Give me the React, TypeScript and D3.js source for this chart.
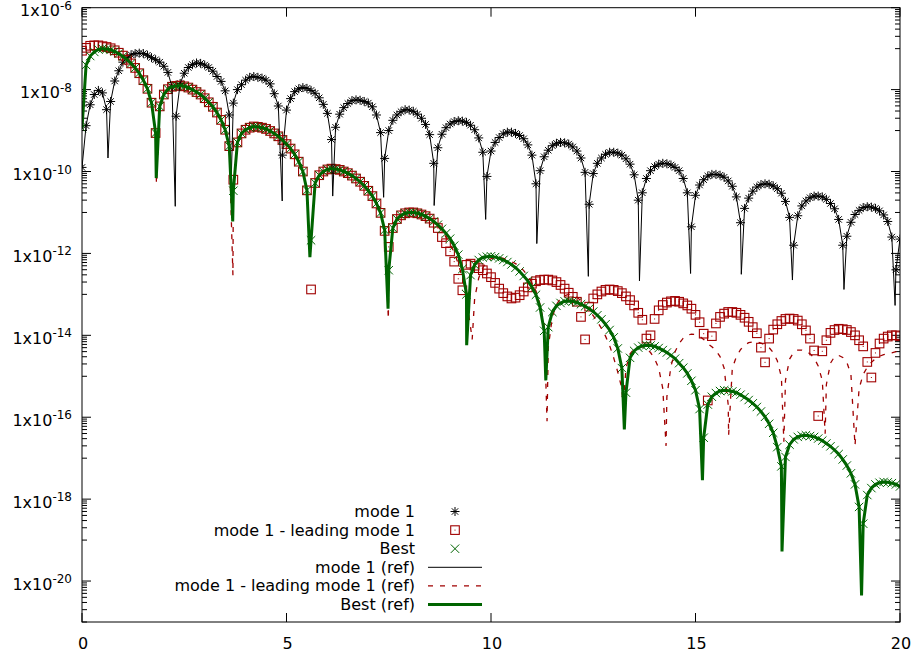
import * as d3 from 'd3';

// x sampled every 0.1 from 0 to 20, values are log10(y)
const xs = d3.range(201).map((i) => i / 10);

const xTicks = [0, 5, 10, 15, 20];
const yLabelExps = [-6, -8, -10, -12, -14, -16, -18, -20];
const minorSteps = [1, 2, 3, 4, 5, 6, 7, 8, 9];

const legendLabels = [
  'mode 1',
  'mode 1 - leading mode 1',
  'Best',
  'mode 1 (ref)',
  'mode 1 - leading mode 1 (ref)',
  'Best (ref)'
];

// mode 1 (stars)
const mode1 = [
  -9.9, -8.88, -8.37, -8.12, -8.02, -8.08, -8.49, -8.29, -7.79, -7.54,
  -7.33, -7.22, -7.15, -7.12, -7.11, -7.12, -7.16, -7.22, -7.27, -7.33,
  -7.43, -7.58, -7.93, -8.65, -7.85, -7.6, -7.46, -7.39, -7.35, -7.36,
  -7.4, -7.46, -7.55, -7.68, -7.8, -8.03, -8.62, -8.33, -8.0, -7.88,
  -7.77, -7.7, -7.68, -7.7, -7.72, -7.77, -7.86, -8.1, -8.4, -9.6,
  -8.5, -8.22, -8.05, -7.98, -7.95, -7.97, -8.02, -8.09, -8.2, -8.36,
  -8.58, -9.22, -8.92, -8.6, -8.44, -8.34, -8.27, -8.25, -8.26, -8.29,
  -8.33, -8.42, -8.62, -9.05, -9.68, -9.0, -8.75, -8.62, -8.54, -8.49,
  -8.5, -8.53, -8.6, -8.7, -8.85, -9.1, -9.8, -9.42, -9.09, -8.93,
  -8.84, -8.78, -8.76, -8.77, -8.8, -8.87, -8.98, -9.18, -9.53, -10.12,
  -9.5, -9.29, -9.17, -9.08, -9.04, -9.04, -9.07, -9.12, -9.2, -9.35,
  -9.6, -10.3, -9.98, -9.64, -9.48, -9.37, -9.31, -9.29, -9.3, -9.33,
  -9.4, -9.5, -9.67, -10.02, -10.8, -10.05, -9.8, -9.67, -9.58, -9.53,
  -9.53, -9.55, -9.6, -9.69, -9.82, -10.08, -10.7, -10.52, -10.17, -9.98,
  -9.88, -9.82, -9.8, -9.81, -9.84, -9.9, -9.98, -10.17, -10.52, -11.35,
  -10.58, -10.33, -10.2, -10.11, -10.07, -10.07, -10.09, -10.14, -10.23, -10.36,
  -10.62, -11.25, -10.9, -10.65, -10.48, -10.38, -10.32, -10.3, -10.31, -10.35,
  -10.42, -10.53, -10.73, -11.12, -11.8, -11.08, -10.84, -10.72, -10.64, -10.6,
  -10.6, -10.62, -10.68, -10.78, -10.91, -11.17, -11.8, -11.58, -11.24, -11.05,
  -10.95, -10.88, -10.86, -10.87, -10.9, -10.96, -11.06, -11.22, -11.6, -12.4,
  -11.65
];

// mode 1 - leading mode 1 (squares)
const mode1Lead = [
  -7.05, -6.98, -6.93, -6.92, -6.92, -6.94, -6.96, -6.99, -7.04, -7.1,
  -7.17, -7.27, -7.36, -7.47, -7.6, -7.77, -7.98, -8.32, -9.06, -8.41,
  -8.12, -7.99, -7.93, -7.91, -7.9, -7.92, -7.95, -8.0, -8.06, -8.12,
  -8.21, -8.31, -8.42, -8.56, -8.74, -8.98, -9.38, -10.2, -9.29, -9.07,
  -8.98, -8.93, -8.9, -8.91, -8.93, -8.96, -9.01, -9.07, -9.14, -9.23,
  -9.33, -9.44, -9.58, -9.76, -10.0, -10.46, -12.88, -10.28, -10.09, -10.0,
  -9.95, -9.93, -9.94, -9.96, -10.0, -10.04, -10.1, -10.17, -10.25, -10.35,
  -10.47, -10.6, -10.78, -11.01, -11.45, -11.84, -11.38, -11.16, -11.07, -11.02,
  -11.0, -11.0, -11.02, -11.05, -11.09, -11.15, -11.25, -11.38, -11.6, -11.75,
  -11.95, -12.2, -12.62, -12.9, -12.28, -12.25, -12.3, -12.36, -12.41, -12.49,
  -12.58, -12.72, -12.86, -12.97, -13.05, -13.1, -13.08, -13.02, -12.93, -12.83,
  -12.74, -12.68, -12.65, -12.64, -12.64, -12.66, -12.7, -12.77, -12.86, -12.96,
  -13.06, -13.18, -13.55, -14.1, -13.3, -13.1, -13.0, -12.93, -12.89, -12.88,
  -12.89, -12.92, -12.97, -13.05, -13.14, -13.27, -13.45, -13.62, -14.08, -14.0,
  -13.6, -13.39, -13.26, -13.2, -13.17, -13.16, -13.18, -13.22, -13.27, -13.35,
  -13.5, -13.68, -13.96, -15.59, -14.02, -13.71, -13.55, -13.47, -13.43, -13.43,
  -13.45, -13.5, -13.57, -13.67, -13.8, -13.95, -14.3, -14.66, -14.08, -13.86,
  -13.73, -13.65, -13.6, -13.59, -13.6, -13.64, -13.73, -13.88, -14.08, -14.37,
  -15.97, -14.39, -14.12, -13.94, -13.87, -13.84, -13.85, -13.87, -13.92, -14.0,
  -14.12, -14.27, -14.65, -15.03, -14.43, -14.2, -14.08, -14.03, -14.0, -14.0,
  -14.02
];

// Best (crosses)
const best = [
  -8.94, -7.4, -7.18, -7.08, -7.02, -7.0, -7.01, -7.03, -7.07, -7.12,
  -7.19, -7.27, -7.36, -7.47, -7.6, -7.77, -7.98, -8.32, -9.06, -8.41,
  -8.12, -7.99, -7.93, -7.91, -7.9, -7.92, -7.95, -8.0, -8.06, -8.12,
  -8.21, -8.31, -8.42, -8.56, -8.74, -8.98, -9.38, -10.47, -9.29, -9.07,
  -8.98, -8.93, -8.9, -8.91, -8.93, -8.96, -9.01, -9.07, -9.14, -9.23,
  -9.33, -9.44, -9.58, -9.76, -10.0, -10.46, -11.68, -10.28, -10.09, -10.0,
  -9.95, -9.93, -9.94, -9.96, -10.0, -10.04, -10.1, -10.17, -10.25, -10.35,
  -10.47, -10.6, -10.78, -11.01, -11.43, -12.41, -11.38, -11.16, -11.07, -11.02,
  -11.0, -11.0, -11.02, -11.05, -11.09, -11.15, -11.22, -11.3, -11.4, -11.51,
  -11.64, -11.81, -12.03, -12.38, -13.0, -12.53, -12.28, -12.16, -12.1, -12.08,
  -12.07, -12.09, -12.12, -12.16, -12.21, -12.27, -12.35, -12.44, -12.55, -12.67,
  -12.82, -13.01, -13.32, -13.89, -13.8, -13.43, -13.28, -13.21, -13.17, -13.16,
  -13.17, -13.2, -13.24, -13.29, -13.35, -13.42, -13.51, -13.61, -13.73, -13.87,
  -14.05, -14.32, -14.8, -15.4, -14.55, -14.38, -14.3, -14.26, -14.24, -14.25,
  -14.27, -14.31, -14.36, -14.42, -14.49, -14.57, -14.68, -14.79, -14.93, -15.11,
  -15.34, -15.8, -16.5, -15.69, -15.5, -15.41, -15.36, -15.34, -15.35, -15.37,
  -15.4, -15.45, -15.51, -15.58, -15.66, -15.75, -15.86, -15.99, -16.16, -16.38,
  -16.73, -17.2, -16.97, -16.67, -16.54, -16.48, -16.45, -16.44, -16.46, -16.48,
  -16.52, -16.57, -16.64, -16.71, -16.8, -16.9, -17.03, -17.18, -17.37, -17.64,
  -18.19, -18.6, -17.9, -17.73, -17.64, -17.6, -17.58, -17.59, -17.61, -17.64,
  -17.69
];

// mode 1 - leading mode 1 (ref), same grid
const mode1LeadRef = [
  -8.94, -7.4, -7.18, -7.08, -7.02, -7.0, -7.01, -7.03, -7.07, -7.12,
  -7.19, -7.27, -7.36, -7.47, -7.6, -7.77, -7.98, -8.32, -9.06, -8.41,
  -8.12, -7.99, -7.93, -7.91, -7.9, -7.92, -7.95, -8.0, -8.06, -8.12,
  -8.21, -8.31, -8.42, -8.56, -8.74, -8.98, -9.38, -10.47, -9.29, -9.07,
  -8.98, -8.93, -8.9, -8.91, -8.93, -8.96, -9.01, -9.07, -9.14, -9.23,
  -9.33, -9.44, -9.58, -9.76, -10.0, -10.46, -11.68, -10.28, -10.09, -10.0,
  -9.95, -9.93, -9.94, -9.96, -10.0, -10.04, -10.1, -10.17, -10.25, -10.35,
  -10.47, -10.6, -10.78, -11.01, -11.43, -12.41, -11.38, -11.16, -11.07, -11.02,
  -11.0, -11.0, -11.02, -11.05, -11.09, -11.15, -11.24, -11.34, -11.46, -11.6,
  -11.77, -11.98, -12.25, -12.6, -13.1, -13.8, -13.1, -12.6, -12.35, -12.2,
  -12.13, -12.1, -12.1, -12.12, -12.16, -12.2, -12.25, -12.32, -12.42, -12.55,
  -12.72, -12.92, -13.25, -13.75, -14.3, -13.55, -13.25, -13.1, -13.03, -13.0,
  -13.02, -13.07, -13.15, -13.28, -13.4, -13.52, -13.67, -13.83, -14.02, -14.25,
  -14.55, -14.9, -15.3, -14.8, -14.45, -14.33, -14.28, -14.28, -14.32, -14.42,
  -14.57, -14.8, -15.3, -15.5, -14.75, -14.4, -14.2, -14.07, -14.0, -13.97,
  -13.98, -14.02, -14.1, -14.2, -14.28, -14.37, -14.52, -14.8, -15.7, -14.8,
  -14.52, -14.35, -14.24, -14.18, -14.16, -14.16, -14.19, -14.23, -14.3, -14.42,
  -14.62, -15.02, -15.1, -14.58, -14.42, -14.36, -14.36, -14.39, -14.45, -14.55,
  -14.75, -15.1, -15.2, -14.68, -14.52, -14.49, -14.54, -14.66, -14.95, -16.69,
  -15.3, -14.95, -14.78, -14.66, -14.57, -14.51, -14.47, -14.45, -14.43, -14.4,
  -14.4
];

// cusp minima of the reference curves: [x, log10 y]
const mode1RefDips = [
  [0.635, -9.67], [2.28, -10.85], [3.64, -10.5], [4.895, -10.72],
  [6.13, -10.6], [7.375, -10.63], [8.61, -10.83], [9.87, -11.17],
  [11.12, -11.76], [12.38, -12.56], [13.63, -12.67], [14.88, -12.49],
  [16.12, -12.51], [17.37, -12.65], [18.63, -12.88], [19.88, -13.27]
];
const mode1LeadRefDips = [
  [1.82, -10.3], [3.69, -12.53], [5.575, -12.14], [7.49, -13.6],
  [9.54, -14.1], [11.37, -16.1], [13.23, -15.8], [14.28, -16.7],
  [15.81, -16.44], [17.16, -16.6], [18.17, -16.4]
];
const bestRefDips = [
  [1.815, -10.16], [3.685, -11.22], [5.572, -12.09], [7.483, -13.35],
  [9.405, -14.24], [11.34, -15.1], [13.26, -16.3], [15.17, -17.54],
  [17.115, -19.28], [19.06, -20.35]
];

const BLACK = '#000000';
const RED = '#a00000';
const GREEN = '#006400';
const FONT = 'DejaVu Sans, Liberation Sans, sans-serif';

type Pt = [number, number];

function Star({ cx, cy }: { cx: number; cy: number }) {
  return (
    <path
      transform={`translate(${cx},${cy})`}
      d="M-4.5,0H4.5M0,-4.5V4.5M-3.2,-3.2L3.2,3.2M-3.2,3.2L3.2,-3.2"
      stroke={BLACK}
      strokeWidth={1}
      fill="none"
    />
  );
}

function Square({ cx, cy }: { cx: number; cy: number }) {
  return (
    <g transform={`translate(${cx},${cy})`}>
      <rect x={-4.3} y={-4.3} width={8.6} height={8.6} fill="none" stroke={RED} strokeWidth={1.1} />
      <rect x={-0.5} y={-0.5} width={1} height={1} fill={RED} />
    </g>
  );
}

function Cross({ cx, cy }: { cx: number; cy: number }) {
  return (
    <path
      transform={`translate(${cx},${cy})`}
      d="M-4.2,-4.2L4.2,4.2M-4.2,4.2L4.2,-4.2"
      stroke={GREEN}
      strokeWidth={1}
      fill="none"
    />
  );
}

export default function App() {
  const left = 82;
  const right = 900;
  const top = 7.7;
  const bottom = 622;

  const x = d3.scaleLinear().domain([0, 20]).range([left, right]);
  const y = d3.scaleLog().domain([1e-21, 1e-6]).range([bottom, top]);
  const yl = (v: number) => y(Math.pow(10, v));

  const toPts = (vals: number[]): Pt[] => vals.map((v, i) => [xs[i], v]);
  const withDips = (vals: number[], dips: number[][]): Pt[] =>
    [...toPts(vals), ...(dips as Pt[])].sort((a, b) => a[0] - b[0]);

  const line = d3
    .line<Pt>()
    .x((d) => x(d[0]))
    .y((d) => yl(d[1]));

  const majorTicks = yLabelExps.map((e) => Math.pow(10, e));
  const minorTicks = yLabelExps.flatMap((e) =>
    minorSteps.map((m) => m * Math.pow(10, e - 1))
  );

  const legendX = 415;
  const legendY0 = 511.5;
  const legendStep = 18.6;
  const sampleX = 455;

  return (
    <svg
      width={915}
      height={657}
      style={{ position: 'absolute', left: 0, top: 0, background: '#fff' }}
      fontFamily={FONT}
    >
      <defs>
        <clipPath id="plot-area">
          <rect x={left} y={top} width={right - left} height={bottom - top} />
        </clipPath>
      </defs>
      <rect x={0} y={0} width={915} height={657} fill="#fff" />

      {/* ticks */}
      {majorTicks.map((t, i) => (
        <g key={`ymaj${i}`} stroke={BLACK} strokeWidth={1}>
          <line x1={left} x2={left + 9} y1={y(t)} y2={y(t)} />
          <line x1={right} x2={right - 9} y1={y(t)} y2={y(t)} />
        </g>
      ))}
      {minorTicks.map((t, i) => (
        <g key={`ymin${i}`} stroke={BLACK} strokeWidth={1}>
          <line x1={left} x2={left + 5} y1={y(t)} y2={y(t)} />
          <line x1={right} x2={right - 5} y1={y(t)} y2={y(t)} />
        </g>
      ))}
      {xTicks.map((t) => (
        <g key={`x${t}`} stroke={BLACK} strokeWidth={1}>
          <line x1={x(t)} x2={x(t)} y1={bottom} y2={bottom - 9} />
          <line x1={x(t)} x2={x(t)} y1={top} y2={top + 9} />
        </g>
      ))}

      {/* tick labels */}
      {yLabelExps.map((e) => (
        <text key={`yl${e}`} x={72} y={y(Math.pow(10, e)) + 8.5} textAnchor="end" fontSize={16}>
          1x10<tspan dy={-6.5} fontSize={12}>{e}</tspan>
        </text>
      ))}
      {xTicks.map((t) => (
        <text key={`xl${t}`} x={x(t) + 1} y={649} textAnchor="middle" fontSize={16}>
          {t}
        </text>
      ))}

      <g clipPath="url(#plot-area)">
        {mode1.map((v, i) => (
          <Star key={`s${i}`} cx={x(xs[i])} cy={yl(v)} />
        ))}
        {mode1Lead.map((v, i) => (
          <Square key={`q${i}`} cx={x(xs[i])} cy={yl(v)} />
        ))}
        {best.map((v, i) => (
          <Cross key={`c${i}`} cx={x(xs[i])} cy={yl(v)} />
        ))}
        <path d={line(withDips(mode1, mode1RefDips)) || ''} fill="none" stroke={BLACK} strokeWidth={1} />
        <path
          d={line(withDips(mode1LeadRef, mode1LeadRefDips)) || ''}
          fill="none"
          stroke={RED}
          strokeWidth={1.3}
          strokeDasharray="5,7"
        />
        <path d={line(withDips(best, bestRefDips)) || ''} fill="none" stroke={GREEN} strokeWidth={3} />
      </g>

      {/* border */}
      <rect x={left} y={top} width={right - left} height={bottom - top} fill="none" stroke={BLACK} strokeWidth={1} />

      {/* legend */}
      {legendLabels.map((label, i) => {
        const ly = legendY0 + i * legendStep;
        return (
          <g key={label}>
            <text x={legendX} y={ly + 5.5} textAnchor="end" fontSize={16}>
              {label}
            </text>
            {i === 0 && <Star cx={sampleX} cy={ly} />}
            {i === 1 && <Square cx={sampleX} cy={ly} />}
            {i === 2 && <Cross cx={sampleX} cy={ly} />}
            {i === 3 && <line x1={428} x2={482} y1={ly} y2={ly} stroke={BLACK} strokeWidth={1} />}
            {i === 4 && (
              <line x1={428} x2={482} y1={ly} y2={ly} stroke={RED} strokeWidth={1.3} strokeDasharray="5,7" />
            )}
            {i === 5 && <line x1={428} x2={482} y1={ly} y2={ly} stroke={GREEN} strokeWidth={3} />}
          </g>
        );
      })}
    </svg>
  );
}
